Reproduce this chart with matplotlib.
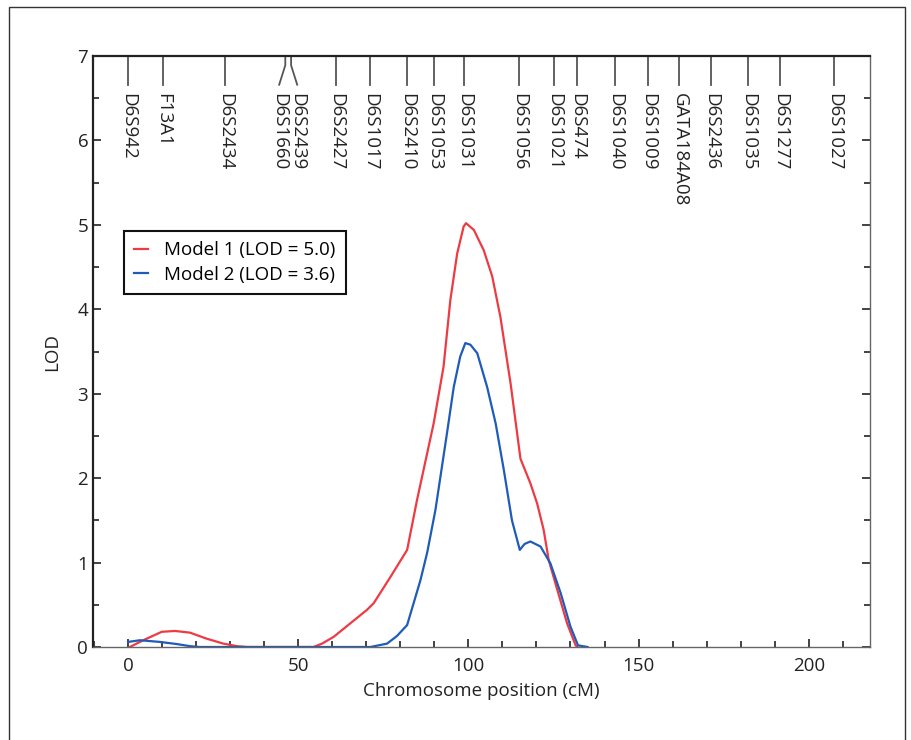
import matplotlib
matplotlib.use("Agg")
import matplotlib.pyplot as plt
from matplotlib.patches import Rectangle
from matplotlib.ticker import MultipleLocator

plt.rcParams["font.family"] = ["Open Sans", "DejaVu Sans"]

# LOD curves (cM, LOD)
model1_x = [0.5, 5, 9.9, 13.8, 18.2, 23, 28, 32, 35, 54.5, 57, 60.4, 65.3, 70.2, 72.2, 77.1, 82,
            84.9, 89.8, 92.7, 94.7, 96.7, 98.6, 99.3, 101.6, 104.5, 107, 109.4, 112.4, 115.3, 118.2,
            120.2, 122.1, 123.6, 126.1, 129, 131.5, 132]
model1_y = [0.0, 0.09, 0.18, 0.19, 0.17, 0.10, 0.04, 0.01, 0.0, 0.0, 0.04, 0.12, 0.28, 0.44, 0.52, 0.83,
            1.15, 1.74, 2.65, 3.32, 4.11, 4.66, 4.98, 5.02, 4.94, 4.70, 4.39, 3.91, 3.12, 2.23, 1.94,
            1.70, 1.39, 1.03, 0.68, 0.28, 0.02, 0.0]

model2_x = [0, 3.5, 9.4, 14.3, 18.2, 21, 71.2, 76.1, 79, 82, 85.9, 87.9, 90.3, 93.7, 95.7, 97.6, 99.1,
            100.6, 102.6, 105.5, 108, 110.4, 112.8, 115.1, 116.5, 118.2, 121.2, 124.1, 127.1, 130,
            132.2, 135]
model2_y = [0.06, 0.08, 0.06, 0.035, 0.01, 0.0, 0.0, 0.04, 0.13, 0.26, 0.79, 1.12, 1.62, 2.53, 3.08,
            3.44, 3.60, 3.58, 3.48, 3.08, 2.65, 2.10, 1.50, 1.15, 1.22, 1.25, 1.19, 0.99, 0.64, 0.24,
            0.02, 0.0]

labels = ["Model 1 (LOD = 5.0)", "Model 2 (LOD = 3.6)"]
colors = ["#EE3A43", "#1F5BB8"]

markers = ["D6S942", "F13A1", "D6S2434", "D6S1660", "D6S2439", "D6S2427", "D6S1017", "D6S2410",
           "D6S1053", "D6S1031", "D6S1056", "D6S1021", "D6S474", "D6S1040", "D6S1009", "GATA184A08",
           "D6S2436", "D6S1035", "D6S1277", "D6S1027"]
marker_cm = [0, 10.2, 28.5, 46.2, 47.9, 61.1, 71.2, 82, 89.8, 98.6, 114.8, 125.1, 132, 143.2,
             152.8, 162, 171.2, 182.3, 191.5, 207.4]
# labels pushed apart where two markers sit too close
label_shift = {"D6S1660": -1.8, "D6S2439": 1.8}

FS = 13.5

fig = plt.figure(figsize=(9.11, 7.4), dpi=100)
fig.patches.append(Rectangle((9 / 911, -0.05), 896 / 911, 1.05 - 7 / 740, transform=fig.transFigure,
                             fill=False, edgecolor="#333333", linewidth=1.0))
ax = fig.add_axes([93 / 911, 93 / 740, 777 / 911, 591 / 740])

ax.plot(model1_x, model1_y, color=colors[0], lw=1.6, label=labels[0])
ax.plot(model2_x, model2_y, color=colors[1], lw=1.6, label=labels[1])

ax.set_xlim(-10.3, 218)
ax.set_ylim(0, 7)
ax.xaxis.set_major_locator(MultipleLocator(50))
ax.xaxis.set_minor_locator(MultipleLocator(10))
ax.yaxis.set_major_locator(MultipleLocator(1))
ax.yaxis.set_minor_locator(MultipleLocator(0.5))
ax.tick_params(which="both", direction="in", labelsize=FS, colors="#222222", top=False, right=True)
ax.tick_params(which="major", length=6, width=1.2)
ax.tick_params(which="minor", length=4, width=1.2)
ax.tick_params(axis="x", pad=7)

for side in ["left", "top"]:
    ax.spines[side].set_linewidth(1.6)
    ax.spines[side].set_color("#222222")
for side in ["bottom", "right"]:
    ax.spines[side].set_linewidth(1.0)
    ax.spines[side].set_color("#666666")

ax.set_xlabel("Chromosome position (cM)", fontsize=FS, color="#222222", labelpad=5)
ax.set_ylabel("LOD", fontsize=FS, color="#222222", labelpad=12)

# marker ticks hanging from the top spine
for name, cm in zip(markers, marker_cm):
    lx = cm + label_shift.get(name, 0)
    ax.plot([cm, cm, lx], [7, 6.89, 6.66], color="#555555", lw=1.3, clip_on=False)
    ax.text(lx, 6.56, name, rotation=270, ha="center", va="top", fontsize=FS, color="#222222")

leg = ax.legend(loc="upper left", bbox_to_anchor=(0.028, 0.72), fontsize=FS, handlelength=0.7,
                handletextpad=0.9, borderpad=0.55, labelspacing=0.35, borderaxespad=0.5,
                fancybox=False, framealpha=1)
leg.get_frame().set_edgecolor("#111111")
leg.get_frame().set_linewidth(1.5)

fig.savefig("out.png", dpi=100)
